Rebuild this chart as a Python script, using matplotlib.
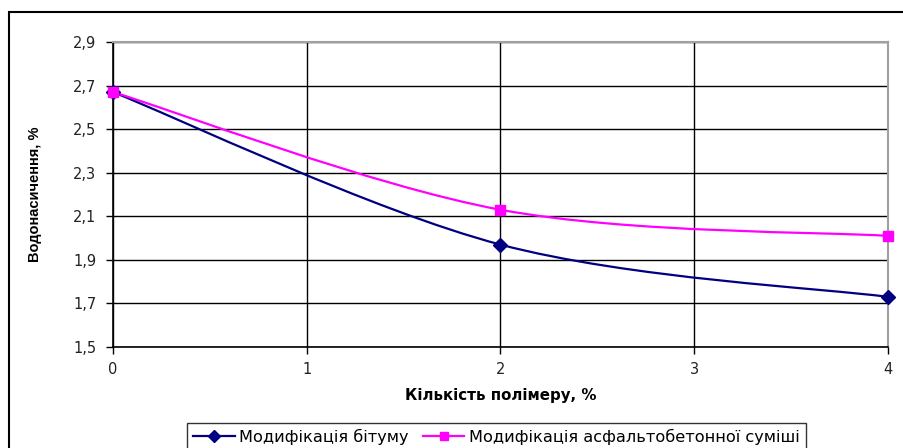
import matplotlib
matplotlib.use("Agg")
import matplotlib.pyplot as plt
from matplotlib.path import Path
from matplotlib.patches import PathPatch, Rectangle
from matplotlib.lines import Line2D

plt.rcParams['font.family'] = ['DejaVu Sans']

x_vals = [0, 2, 4]
bitumen = [2.67, 1.97, 1.73]
mixture = [2.67, 2.13, 2.01]
series_names = ["Модифікація бітуму", "Модифікація асфальтобетонної суміші"]
series_colors = ["#000080", "#FF00FF"]
series_markers = ["D", "s"]
x_ticks = [0, 1, 2, 3, 4]
y_ticks = [1.5, 1.7, 1.9, 2.1, 2.3, 2.5, 2.7, 2.9]
x_label = "Кількість полімеру, %"
y_label = "Водонасичення, %"

W, H = 904, 448
fig = plt.figure(figsize=(W / 100, H / 100), dpi=100)
ax = fig.add_axes([113 / W, 1 - 347 / H, (888 - 113) / W, (347 - 42) / H])


def smooth_path(xs, ys):
    pts = list(zip(xs, ys))
    verts = [pts[0]]
    codes = [Path.MOVETO]
    n = len(pts)
    for i in range(n - 1):
        p0 = pts[i - 1] if i > 0 else pts[i]
        p1 = pts[i]
        p2 = pts[i + 1]
        p3 = pts[i + 2] if i + 2 < n else pts[i + 1]
        c1 = (p1[0] + (p2[0] - p0[0]) / 6, p1[1] + (p2[1] - p0[1]) / 6)
        c2 = (p2[0] - (p3[0] - p1[0]) / 6, p2[1] - (p3[1] - p1[1]) / 6)
        verts += [c1, c2, p2]
        codes += [Path.CURVE4] * 3
    return Path(verts, codes)


for ys, col, mk in zip([bitumen, mixture], series_colors, series_markers):
    patch = PathPatch(smooth_path(x_vals, ys), facecolor='none', edgecolor=col,
                      lw=1.6, zorder=3, clip_on=False)
    ax.add_patch(patch)
    ax.plot(x_vals, ys, linestyle='none', marker=mk, color=col,
            markersize=7 if mk == 's' else 7.5, zorder=4, clip_on=False)

ax.set_xlim(0, 4)
ax.set_ylim(1.5, 2.9)
ax.set_xticks(x_ticks)
ax.set_xticklabels([str(t) for t in x_ticks])
ax.set_yticks(y_ticks)
ax.set_yticklabels([f"{t:.1f}".replace('.', ',') for t in y_ticks])
ax.grid(True, color='black', lw=1)
ax.set_axisbelow(True)
ax.tick_params(axis='both', direction='out', length=5, width=1, color='black',
               labelsize=10.5, labelcolor='#222222')
ax.tick_params(axis='x', pad=6)
ax.tick_params(axis='y', pad=7)
for s in ['left', 'bottom']:
    ax.spines[s].set_color('black')
    ax.spines[s].set_linewidth(1.2)
for s in ['top', 'right']:
    ax.spines[s].set_color('#a0a0a0')
    ax.spines[s].set_linewidth(1.5)

ax.set_xlabel(x_label, fontsize=10.8, fontweight='bold', labelpad=8)
ax.set_ylabel(y_label, fontsize=10.5, fontweight='bold', labelpad=22,
              family=['Liberation Sans'])

# outer chart border (cropped on right/bottom)
fig.patches.append(Rectangle((9 / W, -0.2), 1.2, 1 - 12 / H + 0.2,
                             transform=fig.transFigure, fill=False,
                             edgecolor='black', lw=1.5))

handles = [Line2D([], [], color=c, marker=m, lw=1.6, markersize=6)
           for c, m in zip(series_colors, series_markers)]
leg = fig.legend(handles, series_names, loc='upper left',
                 bbox_to_anchor=(187 / W, 1 - 423 / H), ncol=2,
                 fontsize=11.6, frameon=True, fancybox=False, edgecolor='black',
                 handlelength=2.6, handletextpad=0.3, columnspacing=0.85,
                 borderpad=0.35, borderaxespad=0)
leg.get_frame().set_linewidth(1.0)

fig.savefig("out.png", dpi=100)
